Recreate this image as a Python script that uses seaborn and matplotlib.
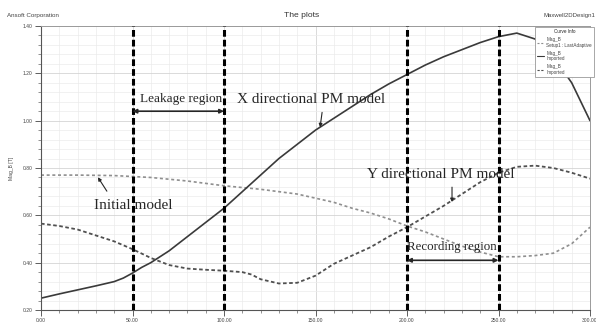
import matplotlib
matplotlib.use("Agg")
import matplotlib.pyplot as plt
import seaborn as sns
from matplotlib.ticker import MultipleLocator, FormatStrFormatter

# =========================
# DATA
# =========================

# X directional PM model (solid)
x_dir_pos = [0, 10, 20, 30, 40, 45, 50, 55, 60, 70, 80, 90, 100, 110, 120, 130,
             140, 150, 160, 170, 180, 190, 200, 210, 220, 230, 240, 250, 260,
             270, 280, 290, 300]
x_dir_mag = [0.25, 0.268, 0.285, 0.302, 0.32, 0.335, 0.356, 0.38, 0.40, 0.45,
             0.51, 0.57, 0.63, 0.70, 0.77, 0.84, 0.90, 0.96, 1.01, 1.06, 1.11,
             1.155, 1.195, 1.235, 1.27, 1.30, 1.33, 1.355, 1.37, 1.345, 1.27,
             1.16, 1.00]

# Initial model (dotted)
init_pos = [0, 20, 40, 60, 80, 100, 120, 140, 160, 170, 180, 190, 200, 210,
            220, 230, 240, 250, 260, 270, 280, 290, 300]
init_mag = [0.77, 0.77, 0.768, 0.76, 0.745, 0.725, 0.71, 0.69, 0.655, 0.63,
            0.61, 0.585, 0.555, 0.53, 0.50, 0.47, 0.445, 0.425, 0.425, 0.43,
            0.44, 0.48, 0.55]

# Y directional PM model (dashed)
y_dir_pos = [0, 10, 20, 30, 40, 50, 60, 70, 80, 90, 100, 110, 115, 120, 130,
             140, 150, 160, 170, 180, 190, 200, 210, 220, 230, 240, 250, 260,
             270, 280, 290, 300]
y_dir_mag = [0.565, 0.555, 0.54, 0.515, 0.49, 0.457, 0.42, 0.39, 0.375, 0.37,
             0.366, 0.36, 0.35, 0.33, 0.312, 0.315, 0.345, 0.395, 0.43, 0.465,
             0.51, 0.55, 0.595, 0.64, 0.69, 0.74, 0.78, 0.805, 0.81, 0.80,
             0.78, 0.755]

region_bounds = [50, 100, 200, 250]
leakage_region = (50, 100)
recording_region = (200, 250)

legend_labels = ["Mag_B\nSetup1 : LastAdaptive", "Mag_B\nImported", "Mag_B\nImported"]

# =========================
# FIGURE
# =========================

sns.set_style("ticks")
plt.rcParams["font.family"] = ["Liberation Sans", "DejaVu Sans"]

fig = plt.figure(figsize=(5.96, 3.22), dpi=100)
ax = fig.add_axes([41 / 596, 1 - 310 / 322, (590 - 41) / 596, (310 - 26) / 322])

sns.lineplot(x=init_pos, y=init_mag, ax=ax, color="#8f8f8f", linewidth=1.2,
             linestyle=(0, (1.8, 1.6)), estimator=None)
sns.lineplot(x=x_dir_pos, y=x_dir_mag, ax=ax, color="#3a3a3a", linewidth=1.2,
             estimator=None)
sns.lineplot(x=y_dir_pos, y=y_dir_mag, ax=ax, color="#505050", linewidth=1.3,
             linestyle=(0, (2, 1.4)), estimator=None)
curves = list(ax.lines)

for b in region_bounds:
    ax.axvline(b, color="black", linewidth=2.2, linestyle=(0, (2.2, 1.0)), zorder=5)

ax.set_xlim(0, 300)
ax.set_ylim(0.2, 1.4)
ax.xaxis.set_major_locator(MultipleLocator(50))
ax.xaxis.set_minor_locator(MultipleLocator(10))
ax.yaxis.set_major_locator(MultipleLocator(0.2))
ax.yaxis.set_minor_locator(MultipleLocator(0.04))
ax.xaxis.set_major_formatter(FormatStrFormatter("%.2f"))
ax.yaxis.set_major_formatter(FormatStrFormatter("%.2f"))
ax.tick_params(which="major", direction="out", length=4, width=0.6,
               labelsize=3.6, colors="#444444", pad=2)
ax.tick_params(which="minor", direction="out", length=2, width=0.5, colors="#666666")

ax.grid(which="major", color="#d4d4d4", linewidth=0.6)
ax.grid(which="minor", color="#ebebeb", linewidth=0.5)
ax.set_axisbelow(True)

for side in ["top", "right"]:
    ax.spines[side].set_color("#9a9a9a")
    ax.spines[side].set_linewidth(0.7)
for side in ["left", "bottom"]:
    ax.spines[side].set_color("#555555")
    ax.spines[side].set_linewidth(0.8)

ax.set_ylabel("Mag_B [T]", fontsize=3.6, color="#444444", labelpad=6)
ax.set_xlabel("Distance [mm]", fontsize=3.2, color="#444444", labelpad=0.5)

# =========================
# ANNOTATIONS
# =========================

serif = ["Liberation Serif", "DejaVu Serif"]
tcol = "#262626"

ax.text(76.5, 1.09, "Leakage region", family=serif, fontsize=9.5, color=tcol,
        ha="center", va="center")
ax.annotate("", xy=(leakage_region[0], 1.04), xytext=(leakage_region[1], 1.04),
            arrowprops=dict(arrowstyle="<|-|>", color=tcol, lw=1.2,
                            mutation_scale=6, shrinkA=0, shrinkB=0), zorder=6)

ax.text(147.5, 1.09, "X directional PM model", family=serif, fontsize=11,
        color=tcol, ha="center", va="center")
ax.annotate("", xy=(152.5, 0.972), xytext=(153.6, 1.035),
            arrowprops=dict(arrowstyle="-|>", color=tcol, lw=0.8,
                            mutation_scale=5, shrinkA=0, shrinkB=0))

ax.text(50.5, 0.643, "Initial model", family=serif, fontsize=11, color=tcol,
        ha="center", va="center", zorder=7)
ax.annotate("", xy=(31.1, 0.761), xytext=(36, 0.702),
            arrowprops=dict(arrowstyle="-|>", color=tcol, lw=0.8,
                            mutation_scale=5, shrinkA=0, shrinkB=0))

ax.text(218.6, 0.774, "Y directional PM model", family=serif, fontsize=11,
        color=tcol, ha="center", va="center", zorder=7)
ax.annotate("", xy=(224.6, 0.656), xytext=(224.6, 0.719),
            arrowprops=dict(arrowstyle="-|>", color=tcol, lw=0.8,
                            mutation_scale=5, shrinkA=0, shrinkB=0))

ax.text(224.6, 0.466, "Recording region", family=serif, fontsize=9.3,
        color=tcol, ha="center", va="center", zorder=7)
ax.annotate("", xy=(recording_region[0], 0.41), xytext=(recording_region[1], 0.41),
            arrowprops=dict(arrowstyle="<|-|>", color=tcol, lw=1.2,
                            mutation_scale=6, shrinkA=0, shrinkB=0), zorder=6)

# =========================
# HEADER TEXT AND LEGEND
# =========================

fig.text(7 / 596, 1 - 15.5 / 322, "Ansoft Corporation", fontsize=4.5,
         color="#444444", ha="left", va="center")
fig.text(302 / 596, 1 - 15.5 / 322, "The plots", fontsize=6.1,
         color="#333333", ha="center", va="center")
fig.text(595 / 596, 1 - 15 / 322, "Maxwell2DDesign1", fontsize=4.3,
         color="#444444", ha="right", va="center")

leg = fig.legend(curves, legend_labels, title="Curve Info", loc="upper right",
                 bbox_to_anchor=(595 / 596, 1 - 26 / 322), fontsize=3.3,
                 title_fontsize=3.3, frameon=True, fancybox=False,
                 edgecolor="#9a9a9a", framealpha=1, handlelength=1.5,
                 handletextpad=0.5, labelspacing=0.6, borderpad=0.5,
                 borderaxespad=0.2)
leg.get_frame().set_linewidth(0.6)
for t in leg.get_texts():
    t.set_color("#444444")
for h in leg.get_lines():
    h.set_linewidth(0.8)

fig.savefig("out.png", dpi=100)
plt.close(fig)
